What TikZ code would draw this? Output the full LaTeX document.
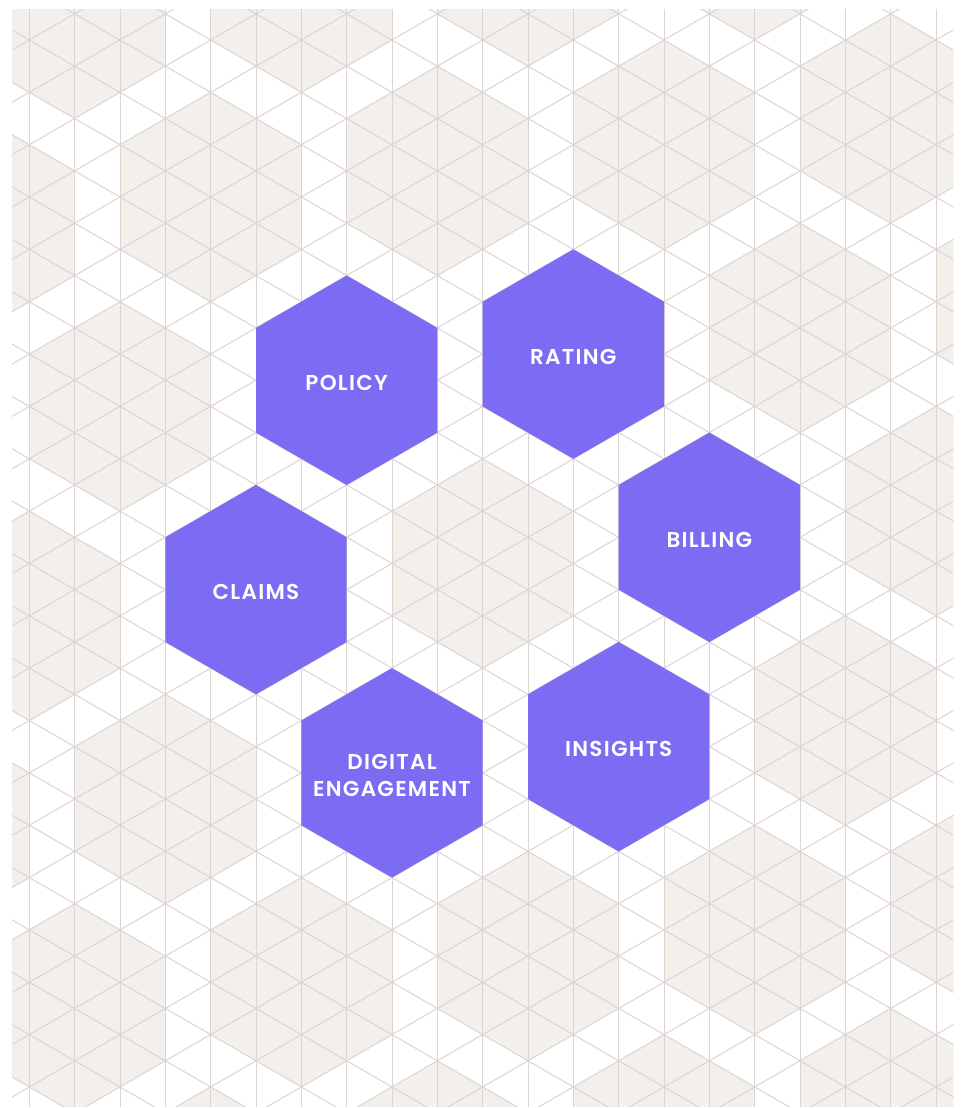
\documentclass[tikz,border=0pt]{standalone}
\usepackage{fontspec}
\newfontfamily\hexfont{Poppins}[UprightFont={* SemiBold}, LetterSpace=6]
\definecolor{gridc}{HTML}{DCD3D3}
\definecolor{beige}{HTML}{F3F0EC}
\definecolor{hexpurple}{HTML}{7B6CF3}
\tikzset{
  gridline/.style={draw=gridc, line width=1pt},
  beigefill/.style={fill=beige},
  purplefill/.style={fill=hexpurple},
  hexlabel/.style={text=white, font=\hexfont\fontsize{21.5}{26.7}\selectfont, align=center, inner sep=0pt}
}
\newcommand\beigehex[2]{%
  \pgfmathsetmacro\hx{29.3333+45.3333*#1}%
  \pgfmathsetmacro\hy{40+26.1734*#2}%
  \fill[beigefill] (\hx,{\hy-104.6936}) -- ++(90.6667,52.3468) -- ++(0,104.6936)
    -- ++(-90.6667,52.3468) -- ++(-90.6667,-52.3468) -- ++(0,-104.6936) -- cycle;
}
\newcommand\purplehex[4]{%
  \pgfmathsetmacro\hx{29.3333+45.3333*#1}%
  \pgfmathsetmacro\hy{40+26.1734*#2}%
  \fill[purplefill] (\hx,{\hy-104.6936}) -- ++(90.6667,52.3468) -- ++(0,104.6936)
    -- ++(-90.6667,52.3468) -- ++(-90.6667,-52.3468) -- ++(0,-104.6936) -- cycle;
  \node[hexlabel] (#3) at (\hx,{\hy+2.5}) {#4};
}
\begin{document}
\begin{tikzpicture}[x=1pt,y=-1pt]
\useasboundingbox (0,0) rectangle (963,1108);
\fill[white] (0,0) rectangle (963,1108);
\begin{scope}
  \clip (12,9.5) rectangle (953.3,1106);
  \foreach \k/\j in {1/-1,6/-2,11/-3,16/-4,21/-5,
                     -1/7,4/6,9/5,14/4,19/3,
                     2/14,17/11,22/10,
                     0/22,10/20,20/18,
                     -2/30,3/29,18/26,
                     1/37,6/36,11/35,16/34,21/33,
                     4/44,9/43,14/42,19/41}
    {\beigehex{\k}{\j}}
  \foreach \k in {0,...,20}
    \draw[gridline] ({29.3333+45.3333*\k},0) -- ++(0,1108);
  \foreach \c in {-11,...,21}
    \draw[gridline] (0,{23.064+52.3468*\c}) -- (963,{579.05+52.3468*\c});
  \foreach \c in {-1,...,31}
    \draw[gridline] (0,{56.936+52.3468*\c}) -- (963,{-499.05+52.3468*\c});
\end{scope}
\purplehex{7}{13}{policy}{POLICY}
\purplehex{12}{12}{rating}{RATING}
\purplehex{15}{19}{billing}{BILLING}
\purplehex{5}{21}{claims}{CLAIMS}
\purplehex{8}{28}{digital}{DIGITAL\\ENGAGEMENT}
\purplehex{13}{27}{insights}{INSIGHTS}
\end{tikzpicture}
\end{document}
